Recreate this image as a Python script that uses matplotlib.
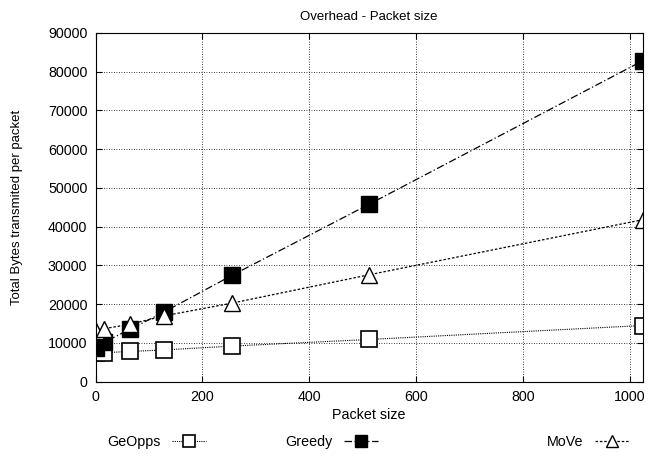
import matplotlib
matplotlib.use('Agg')
import matplotlib.pyplot as plt

plt.rcParams['font.family'] = ['Liberation Sans', 'DejaVu Sans']
plt.rcParams['font.size'] = 10.3

sizes = [1, 16, 64, 128, 256, 512, 1024]
geopps = [7500, 7500, 7800, 8200, 9200, 10900, 14500]
greedy = [8800, 10200, 13500, 18000, 27500, 45800, 82800]
move = [13200, 13700, 14800, 17000, 20300, 27600, 41800]

fig = plt.figure(figsize=(6.49, 4.59), dpi=100)
ax = fig.add_axes([95.7 / 649, 1 - 381.7 / 459, (642.5 - 95.7) / 649, (381.7 - 33) / 459])

l1, = ax.plot(sizes, geopps, color='black', linestyle=(0, (1, 1)), linewidth=0.8,
              marker='s', markersize=11, markerfacecolor='white', markeredgewidth=1.2,
              label='GeOpps')
l2, = ax.plot(sizes, greedy, color='black', linestyle=(0, (6, 2, 1, 2)), linewidth=0.9,
              marker='s', markersize=11, markerfacecolor='black', label='Greedy')
l3, = ax.plot(sizes, move, color='black', linestyle=(0, (2, 1.5)), linewidth=0.9,
              marker='^', markersize=11, markerfacecolor='white', markeredgewidth=1.0,
              label='MoVe')

ax.set_xlim(0, 1024)
ax.set_ylim(0, 90000)
ax.set_xticks([0, 200, 400, 600, 800, 1000])
ax.set_yticks(range(0, 90001, 10000))
ax.grid(True, color='black', linestyle=(0, (1, 2)), linewidth=0.6)
ax.tick_params(direction='in', length=4, top=True, right=True, pad=6)
ax.set_xlabel('Packet size', labelpad=3)
ax.set_ylabel('Total Bytes transmited per packet', fontsize=9.5, labelpad=18)
ax.set_title('Overhead - Packet size', fontsize=9.5, pad=9)

for line, xpos in [(l1, 100), (l2, 278), (l3, 540)]:
    fig.legend(handles=[line], loc='center left', frameon=False, markerfirst=False,
               bbox_to_anchor=(xpos / 649, 1 - 442 / 459), borderpad=0,
               handlelength=2.4, handletextpad=0.8, markerscale=0.75)

fig.savefig('out.png', dpi=100)
